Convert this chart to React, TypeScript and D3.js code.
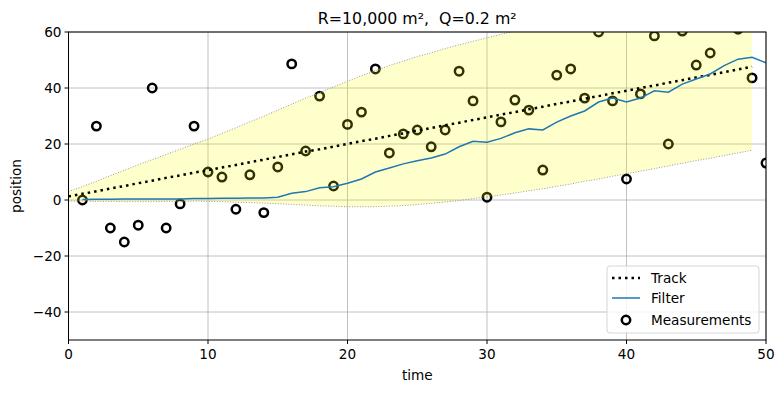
import React from "react";
import * as d3 from "d3";

// values
const measTime = d3.range(1, 51);
const measurements = [
  0, 26.4, -10, -15, -9, 40, -10, -1.4, 26.4, 10,
  8.2, -3.3, 9, -4.5, 11.8, 48.6, 17.5, 37.1, 5, 27,
  31.4, 46.8, 16.8, 23.6, 25, 19, 25, 46, 35.4, 1,
  27.9, 35.7, 32.1, 10.7, 44.6, 46.8, 36.4, 60, 35.4, 7.5,
  37.9, 58.6, 20, 60.3, 48.2, 52.5, 66, 61, 43.6, 13.2,
];

const filterTime = d3.range(1, 51);
const filterValues = [
  0.2, 0.3, 0.3, 0.4, 0.4, 0.4, 0.4, 0.4, 0.5, 0.5,
  0.6, 0.6, 0.7, 0.7, 1, 2.4, 3, 4.4, 4.7, 6,
  7.5, 10, 11.4, 12.9, 14, 15, 16.4, 19, 21, 20.6,
  22, 24, 25.4, 25, 27.8, 30, 31.8, 35, 36.4, 35,
  36.4, 39, 38.5, 41.4, 43.2, 45, 48, 50.3, 51, 49,
];

const trackTime = d3.range(0, 50);
const track = [
  1.3, 2.2, 3.1, 4.1, 5.0, 6.0, 6.9, 7.9, 8.8, 9.8,
  10.6, 11.6, 12.5, 13.5, 14.4, 15.4, 16.3, 17.3, 18.1, 19.1,
  20.0, 21.0, 21.9, 22.9, 23.8, 24.8, 25.7, 26.7, 27.6, 28.6,
  29.5, 30.5, 31.4, 32.4, 33.3, 34.3, 35.2, 36.2, 37.1, 38.1,
  39.0, 40.0, 40.9, 41.9, 42.8, 43.8, 44.7, 45.7, 46.6, 47.6,
];
const trackStd = [
  1.7, 2.6, 3.6, 4.6, 5.6, 6.6, 7.5, 8.4, 9.3, 10.2,
  11.1, 12.2, 13.3, 14.4, 15.5, 16.7, 17.9, 19.1, 20.2, 21.3,
  22.4, 23.4, 24.3, 25.1, 25.8, 26.4, 26.9, 27.4, 27.8, 28.1,
  28.4, 28.7, 28.9, 29.1, 29.3, 29.4, 29.5, 29.5, 29.6, 29.6,
  29.6, 29.7, 29.7, 29.7, 29.7, 29.7, 29.8, 29.8, 29.8, 29.8,
];

const xTicks = [0, 10, 20, 30, 40, 50];
const yTicks = [-40, -20, 0, 20, 40, 60];

const W = 784;
const H = 393;
const left = 68.5, right = 766, top = 32, bottom = 340;
const font = "DejaVu Sans, sans-serif";
const fs = 13.6;
const fmt = (v: number) => (v < 0 ? "\u2212" + Math.abs(v) : String(v));

const App = () => {
  const x = d3.scaleLinear().domain([0, 50]).range([left, right]);
  const y = d3.scaleLinear().domain([-50, 60]).range([bottom, top]);

  const band = d3
    .area<number>()
    .x((_, i) => x(trackTime[i]))
    .y0((_, i) => y(track[i] - trackStd[i]))
    .y1((_, i) => y(track[i] + trackStd[i]));
  const upper = d3.line<number>().x((_, i) => x(trackTime[i])).y((_, i) => y(track[i] + trackStd[i]));
  const lower = d3.line<number>().x((_, i) => x(trackTime[i])).y((_, i) => y(track[i] - trackStd[i]));
  const trackLine = d3.line<number>().x((_, i) => x(trackTime[i])).y((d) => y(d));
  const filterLine = d3.line<number>().x((_, i) => x(filterTime[i])).y((d) => y(d));

  return (
    <svg width={W} height={H} style={{ position: "absolute", left: 0, top: 0 }} fontFamily={font}>
      <defs>
        <clipPath id="plot">
          <rect x={left} y={top} width={right - left} height={bottom - top} />
        </clipPath>
      </defs>
      <rect width={W} height={H} fill="white" />

      {/* grid */}
      <g stroke="#b0b0b0" strokeWidth={0.8}>
        {xTicks.map((t) => (
          <line key={"gx" + t} x1={x(t)} x2={x(t)} y1={top} y2={bottom} />
        ))}
        {yTicks.map((t) => (
          <line key={"gy" + t} x1={left} x2={right} y1={y(t)} y2={y(t)} />
        ))}
      </g>

      <g clipPath="url(#plot)">
        {measurements.map((m, i) => (
          <circle key={i} cx={x(measTime[i])} cy={y(m)} r={4.2} fill="none" stroke="black" strokeWidth={2.5} />
        ))}
        <path d={band(track) || ""} fill="yellow" fillOpacity={0.2} />
        <path d={upper(track) || ""} fill="none" stroke="#999" strokeWidth={1} strokeDasharray="1,1.65" />
        <path d={lower(track) || ""} fill="none" stroke="#999" strokeWidth={1} strokeDasharray="1,1.65" />
        <path d={trackLine(track) || ""} fill="none" stroke="black" strokeWidth={2.5} strokeDasharray="2.5,4" />
        <path d={filterLine(filterValues) || ""} fill="none" stroke="#1f77b4" strokeWidth={1.5} />
      </g>

      {/* frame */}
      <rect x={left} y={top} width={right - left} height={bottom - top} fill="none" stroke="black" strokeWidth={1} />

      {/* ticks */}
      <g fontSize={fs} fill="black">
        {xTicks.map((t) => (
          <g key={"tx" + t}>
            <line x1={x(t)} x2={x(t)} y1={bottom} y2={bottom + 4} stroke="black" />
            <text x={x(t)} y={bottom + 18.5} textAnchor="middle">{fmt(t)}</text>
          </g>
        ))}
        {yTicks.map((t) => (
          <g key={"ty" + t}>
            <line x1={left - 4} x2={left} y1={y(t)} y2={y(t)} stroke="black" />
            <text x={left - 7} y={y(t) + 4.8} textAnchor="end">{fmt(t)}</text>
          </g>
        ))}
      </g>

      <text x={(left + right) / 2} y={380} fontSize={fs} textAnchor="middle">time</text>
      <text transform={`translate(21,${(top + bottom) / 2}) rotate(-90)`} fontSize={fs} textAnchor="middle">position</text>
      <text x={(left + right) / 2} y={24} fontSize={15.8} textAnchor="middle" style={{ whiteSpace: "pre" }}>
        {"R=10,000 m²,  Q=0.2 m²"}
      </text>

      {/* legend */}
      <g transform="translate(607,266)" fontSize={fs}>
        <rect x={0} y={0} width={152} height={67} rx={3} fill="white" fillOpacity={0.8} stroke="#d6d6d6" />
        <line x1={5} x2={33} y1={12} y2={12} stroke="black" strokeWidth={2.5} strokeDasharray="2.5,4" />
        <text x={44} y={17}>Track</text>
        <line x1={5} x2={33} y1={32} y2={32} stroke="#1f77b4" strokeWidth={1.5} />
        <text x={44} y={37}>Filter</text>
        <circle cx={19} cy={54} r={4.2} fill="none" stroke="black" strokeWidth={2.5} />
        <text x={44} y={59}>Measurements</text>
      </g>
    </svg>
  );
};

export default App;
